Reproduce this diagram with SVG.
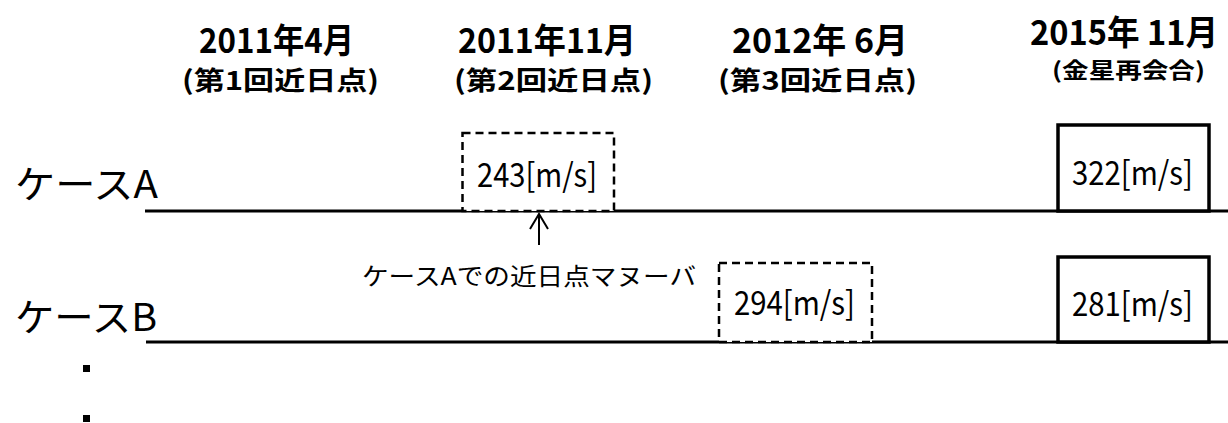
<svg xmlns="http://www.w3.org/2000/svg" width="1228" height="423" viewBox="0 0 1228 423">
<style>
.hd{font-family:"Noto Sans CJK JP","Liberation Sans",sans-serif;font-weight:bold;fill:#000}
.h1{font-size:34px}
.h2{font-size:26px}
.case{font-family:"Noto Sans CJK JP","Liberation Sans",sans-serif;font-size:38px;fill:#000}
.val{font-family:"Noto Sans CJK JP","Liberation Sans",sans-serif;font-size:33px;fill:#000}
.lbl{font-family:"Noto Sans CJK JP","Liberation Sans",sans-serif;font-size:24px;fill:#000}
.tl{stroke:#000;stroke-width:3;fill:none}
.dash{stroke:#000;stroke-width:2.5;fill:#fff;stroke-dasharray:8,5}
.solid{stroke:#000;stroke-width:3.5;fill:#fff}
</style>
<rect width="1228" height="423" fill="#fff"/>
<g id="headers">
<g id="h-2011-4">
<text class="hd h1" x="199" y="53" textLength="155" lengthAdjust="spacingAndGlyphs">2011年4月</text>
<text class="hd h2" x="182" y="90" textLength="197" lengthAdjust="spacingAndGlyphs">(第1回近日点)</text>
</g>
<g id="h-2011-11">
<text class="hd h1" x="458" y="53" textLength="178" lengthAdjust="spacingAndGlyphs">2011年11月</text>
<text class="hd h2" x="454" y="90" textLength="199" lengthAdjust="spacingAndGlyphs">(第2回近日点)</text>
</g>
<g id="h-2012-6">
<text class="hd h1" x="732" y="53" textLength="176" lengthAdjust="spacingAndGlyphs">2012年 6月</text>
<text class="hd h2" x="718" y="90" textLength="199" lengthAdjust="spacingAndGlyphs">(第3回近日点)</text>
</g>
<g id="h-2015-11">
<text class="hd h1" x="1030" y="45" style="font-size:34px" textLength="188" lengthAdjust="spacingAndGlyphs">2015年 11月</text>
<text class="hd h2" x="1052" y="78" style="font-size:22px" textLength="153" lengthAdjust="spacingAndGlyphs">(金星再会合)</text>
</g>
</g>
<g id="caseA">
<text class="case" x="15" y="198" textLength="143" lengthAdjust="spacingAndGlyphs">ケースA</text>
</g>
<g id="caseB">
<text class="case" x="15" y="331" textLength="142" lengthAdjust="spacingAndGlyphs">ケースB</text>
</g>
<g id="connectors">
<line class="tl" x1="145" y1="211" x2="1228" y2="211"/>
<line class="tl" x1="146" y1="342" x2="1228" y2="342"/>
<line x1="539" y1="245" x2="539" y2="214" stroke="#000" stroke-width="2"/>
<polyline points="530,229 539,214 548,229" fill="none" stroke="#000" stroke-width="2"/>
</g>
<g id="boxA1">
<rect class="dash" x="462.5" y="133" width="151.5" height="78"/>
<text class="val" x="477" y="187" textLength="120" lengthAdjust="spacingAndGlyphs">243[m/s]</text>
</g>
<g id="boxA2">
<rect class="solid" x="1058" y="125" width="151" height="86"/>
<text class="val" x="1072" y="185" textLength="121" lengthAdjust="spacingAndGlyphs">322[m/s]</text>
</g>
<g id="boxB1">
<rect class="dash" x="719" y="263" width="153" height="79"/>
<text class="val" x="734" y="315" textLength="121" lengthAdjust="spacingAndGlyphs">294[m/s]</text>
</g>
<g id="boxB2">
<rect class="solid" x="1058" y="257" width="151" height="85"/>
<text class="val" x="1072" y="316" textLength="121" lengthAdjust="spacingAndGlyphs">281[m/s]</text>
</g>
<g id="maneuver-label">
<text class="lbl" x="362" y="285" textLength="334" lengthAdjust="spacingAndGlyphs">ケースAでの近日点マヌーバ</text>
</g>
<g id="dots">
<rect x="83" y="365" width="7" height="7" fill="#000"/>
<rect x="83" y="415" width="7" height="7" fill="#000"/>
</g>
</svg>
